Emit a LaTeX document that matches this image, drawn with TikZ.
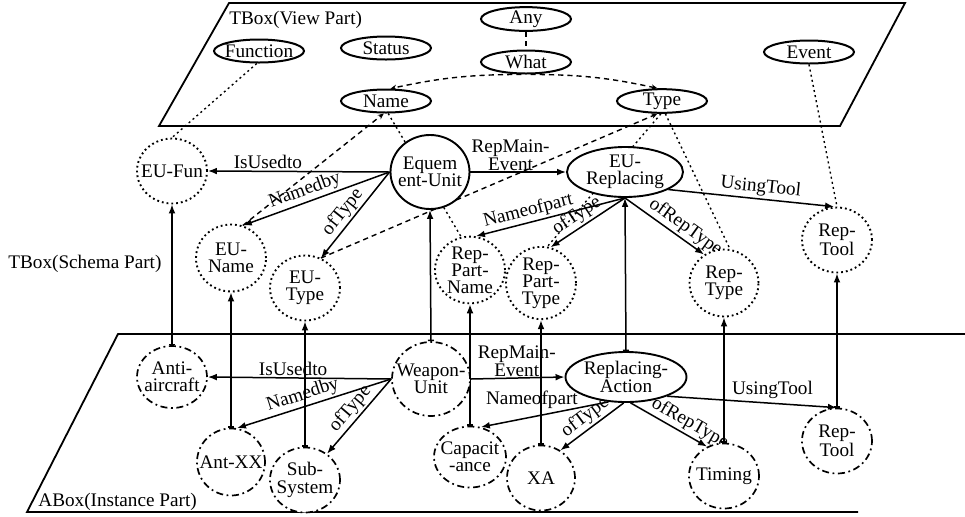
\documentclass[tikz,border=0pt]{standalone}
\usepackage{fontspec}
\setmainfont{Liberation Serif}
\usetikzlibrary{shapes.geometric,arrows.meta,backgrounds}
\begin{document}
\begin{tikzpicture}[x=0.5pt,y=-0.5pt,
  every node/.style={font=\fontsize{9.6}{8.6}\selectfont},
  base/.style={ellipse, fill=white, inner xsep=-4pt, inner ysep=0pt, align=center},
  view/.style={base, draw, line width=1pt, minimum width=45pt, minimum height=11.5pt},
  sch/.style={base, draw, line width=0.95pt, dash pattern=on 0.9pt off 1.5pt, minimum width=35pt, minimum height=33pt},
  schs/.style={base, draw, line width=0.95pt},
  inst/.style={base, draw, line width=0.85pt, dash pattern=on 3.5pt off 1.8pt on 0.9pt off 1.8pt, minimum width=35pt, minimum height=33pt},
  rel/.style={line width=0.75pt, -{Latex[length=4.5pt,width=3.4pt]}},
  upar/.style={line width=0.75pt, {Bar[width=3pt]}-{Latex[length=4.5pt,width=3.4pt]}},
  lbl/.style={inner sep=1pt, align=center},
  vdot/.style={line width=0.7pt, dash pattern=on 1pt off 1.6pt},
  vdash/.style={line width=0.7pt, dash pattern=on 2.6pt off 2pt},
  vtip/.style={-{Stealth[length=3pt,width=2.6pt]}},
  plane/.style={line width=0.9pt},
]
\useasboundingbox (0,0) rectangle (965,516);
% planes
\draw[plane] (229,3) -- (905,3) -- (840,126) -- (159,126) -- cycle;
\draw[plane] (965,334) -- (118,334) -- (27,512) -- (858,512);
\node[anchor=west, inner sep=0pt] (tvp) at (229,20) {TBox(View Part)};
\node[anchor=west, inner sep=0pt] (tsp) at (8,264) {TBox(Schema Part)};
\node[anchor=west, inner sep=0pt] (aip) at (38,502) {ABox(Instance Part)};

% view part
\node[view] (any) at (526,19) {Any};
\node[view] (what) at (526,62) {What};
\node[view] (function) at (259,51) {Function};
\node[view] (status) at (386,48) {Status};
\node[view] (event) at (809,52) {Event};
\node[view] (name) at (386,101) {Name};
\node[view] (type) at (662,101) {Type};

% schema part
\node[sch, minimum height=32.5pt] (eufun) at (172,171) {EU-Fun};
\node[schs, minimum width=39.5pt, minimum height=37pt] (eu) at (430,172) {Equem\\ent-Unit};
\node[schs, minimum width=58pt, minimum height=25pt] (eurep) at (625,172) {EU-\\Replacing};
\node[sch, minimum height=33.5pt] (euname) at (231,258) {EU-\\Name};
\node[sch, minimum height=32.5pt] (eutype) at (305,288) {EU-\\Type};
\node[sch] (rpn) at (470,270) {Rep-\\Part-\\Name};
\node[sch, minimum height=33.5pt] (rpt) at (541,283) {Rep-\\Part-\\Type};
\node[sch, minimum width=34.5pt, minimum height=33.5pt] (rtype) at (724,283) {Rep-\\Type};
\node[sch, minimum height=32.5pt] (rtool1) at (837,240) {Rep-\\Tool};

% instance part
\node[inst, minimum height=31pt] (aa) at (172,377) {Anti-\\aircraft};
\node[inst, minimum width=39pt, minimum height=37pt] (wu) at (431,379) {Weapon-\\Unit};
\node[inst, minimum width=34pt, minimum height=33.5pt] (antxx) at (231,462) {Ant-XX};
\node[inst, minimum height=32.5pt] (subsys) at (305,480) {Sub-\\System};
\node[inst, minimum width=36pt, minimum height=30.5pt] (cap) at (470,457) {Capacit\\-ance};
\node[schs, minimum width=60.5pt, minimum height=25pt] (ra) at (626,377) {Replacing-\\Action};
\node[inst, minimum width=34pt, minimum height=32.5pt] (xa) at (541,478) {XA};
\node[inst, minimum height=32.5pt] (timing) at (724,476) {Timing};
\node[inst, minimum height=32.5pt] (rtool2) at (837,441) {Rep-\\Tool};

\begin{pgfonlayer}{background}
% view-part links
\draw[vdash] (any.south) -- (what.north);
\draw[vdash, vtip] (what.-110) to[bend right=6] (name.70);
\draw[vdash, vtip] (what.-70) to[bend left=6] (type.110);
\draw[vdash, vtip] (euname.70) -- (name.-100);
\draw[vdash, vtip] (eutype.62) -- (type.-110);
\draw[vdot] (function.-100) -- (eufun.north);
\draw[vdot] (name.-80) -- (rpn.105);
\draw[vdot] (type.-95) -- (rpt.80);
\draw[vdot] (type.-75) -- (rtype.80);
\draw[vdot] (event.south) -- (rtool1.north);

% schema relations
\draw[rel] (eu.west) -- node[lbl, above, pos=.67] (l1) {IsUsedto} (eufun.east);
\draw[rel] (eu.east) -- node[lbl, above, pos=.42, inner sep=0.5pt] (l2) {RepMain-\\Event} (eurep.west);
\draw[rel] (eu.west) -- node[lbl, above, sloped, pos=.55] (l3) {Namedby} (euname.70);
\draw[rel] (eu.west) -- node[lbl, above, sloped, pos=.55] (l4) {ofType} (eutype.62);
\draw[rel] (eurep.south) -- node[lbl, above, sloped, pos=.63] (l5) {Nameofpart} (rpn.80);
\draw[rel] (eurep.south) -- node[lbl, above, sloped, pos=.56] (l6) {ofType} (rpt.75);
\draw[rel] (eurep.south) -- node[lbl, above, sloped, pos=.68] (l7) {ofRepType} (rtype.125);
\draw[rel] (eurep.-22) -- node[lbl, above, sloped, pos=.55] (l8) {UsingTool} (rtool1.95);

% instance-of links
\draw[upar] (aa.north) -- (eufun.south);
\draw[upar] (antxx.north) -- (euname.south);
\draw[upar] (subsys.north) -- (eutype.south);
\draw[upar] (wu.north) -- (eu.south);
\draw[upar] (cap.north) -- (rpn.south);
\draw[upar] (xa.north) -- (rpt.south);
\draw[upar] (ra.north) -- (eurep.south);
\draw[upar] (timing.north) -- (rtype.south);
\draw[upar] (rtool2.north) -- (rtool1.south);

% instance relations
\draw[rel] (wu.west) -- node[lbl, above, pos=.535] (l9) {IsUsedto} (aa.east);
\draw[rel] (wu.east) -- node[lbl, above, pos=.49, inner sep=0.5pt] (l10) {RepMain-\\Event} (ra.west);
\draw[rel] (wu.west) -- node[lbl, above, sloped, pos=.55] (l11) {Namedby} (antxx.80);
\draw[rel] (wu.west) -- node[lbl, above, sloped, pos=.5] (l12) {ofType} (subsys.50);
\draw[rel] (ra.-125) -- node[lbl, above=3pt, pos=.6] (l13) {Nameofpart} (cap.70);
\draw[rel] (ra.-95) -- node[lbl, above, sloped, pos=.5] (l14) {ofType} (xa.55);
\draw[rel] (ra.-80) -- node[lbl, above, sloped, pos=.7] (l15) {ofRepType} (timing.120);
\draw[rel] (ra.-25) -- node[lbl, above=1pt, pos=.62] (l16) {UsingTool} (rtool2.north);
\end{pgfonlayer}
\end{tikzpicture}
\end{document}
